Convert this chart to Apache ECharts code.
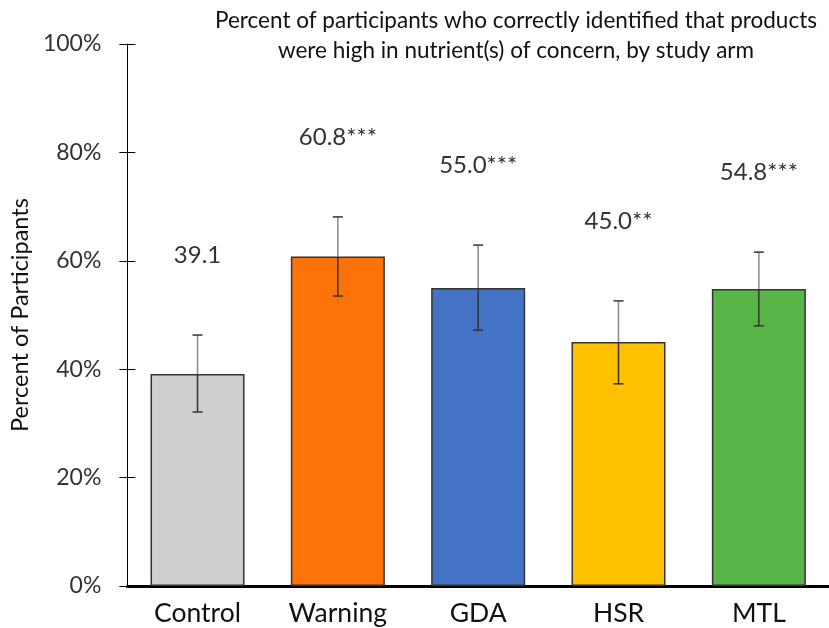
<!DOCTYPE html>
<html>
<head>
<meta charset="utf-8">
<script src="https://cdn.jsdelivr.net/npm/echarts@6/dist/echarts.min.js"></script>
<style>
html,body{margin:0;padding:0;background:#fff;}
#chart{width:829px;height:628px;}
</style>
</head>
<body>
<div id="chart"></div>
<script>
var categories = ['Control', 'Warning', 'GDA', 'HSR', 'MTL'];
var values = [39.1, 60.8, 55.0, 45.0, 54.8];
var errLow = [32.1, 53.5, 47.2, 37.3, 48.0];
var errHigh = [46.3, 68.1, 62.9, 52.6, 61.6];
var valueLabels = ['39.1', '60.8***', '55.0***', '45.0**', '54.8***'];
var barColors = ['#d0cece', '#fb7309', '#4472c4', '#ffc000', '#56b546'];
var yTicks = [0, 20, 40, 60, 80, 100];

var FONT = 'Lato';
var chart = echarts.init(document.getElementById('chart'));

var errData = categories.map(function (c, i) { return [i, errLow[i], errHigh[i], values[i]]; });

var option = {
  backgroundColor: '#fff',
  animation: false,
  title: {
    text: 'Percent of participants who correctly identified that products\nwere high in nutrient(s) of concern, by study arm',
    left: 511, top: 1, textAlign: 'center',
    textStyle: { fontFamily: FONT, fontSize: 22.5, fontWeight: 'normal', color: '#111', lineHeight: 30 }
  },
  grid: { left: 125, right: -3, top: 44, bottom: 42, containLabel: false },
  xAxis: {
    type: 'category', data: categories,
    axisLine: { lineStyle: { color: '#000', width: 3 } },
    axisTick: { show: false },
    axisLabel: { fontFamily: FONT, fontSize: 26.5, color: '#111', margin: 14 }
  },
  yAxis: [{
    type: 'value', min: 0, max: 100, interval: 20,
    name: 'Percent of Participants', nameLocation: 'middle', nameGap: 94,
    nameTextStyle: { fontFamily: FONT, fontSize: 23.5, color: '#111' },
    axisLine: { show: true, lineStyle: { color: '#000', width: 1 } },
    axisTick: { show: true, length: 8, lineStyle: { color: '#000' } },
    axisLabel: { fontFamily: FONT, fontSize: 23, color: '#333', margin: 26, formatter: function (v) { return yTicks.indexOf(v) >= 0 ? v + '%' : ''; } },
    splitLine: { show: false }
  }, {
    type: 'value', min: 0, max: 100, interval: 20, position: 'left', offset: 0,
    axisLine: { show: false },
    axisTick: { show: true, inside: true, length: 8, lineStyle: { color: '#000' } },
    axisLabel: { show: false },
    splitLine: { show: false }
  }],
  series: [{
    type: 'bar',
    barWidth: '67%',
    data: values.map(function (v, i) {
      return { value: v, itemStyle: { color: barColors[i], borderColor: '#333', borderWidth: 1.5 } };
    }),
    z: 2
  }, {
    type: 'custom',
    data: errData,
    z: 5,
    renderItem: function (params, api) {
      var x = api.coord([api.value(0), 0])[0];
      var yl = api.coord([api.value(0), api.value(1)])[1];
      var yh = api.coord([api.value(0), api.value(2)])[1];
      var yv = api.coord([api.value(0), api.value(3)])[1];
      var cap = 5;
      var idx = params.dataIndex;
      return {
        type: 'group',
        children: [
          { type: 'line', shape: { x1: x, y1: yv, x2: x, y2: yh }, style: { stroke: '#8a8a8a', lineWidth: 1.5 } },
          { type: 'line', shape: { x1: x, y1: yl, x2: x, y2: yv }, style: { stroke: '#333', lineWidth: 1.5 } },
          { type: 'line', shape: { x1: x - cap, y1: yh, x2: x + cap, y2: yh }, style: { stroke: '#333', lineWidth: 1.5 } },
          { type: 'line', shape: { x1: x - cap, y1: yl, x2: x + cap, y2: yl }, style: { stroke: '#333', lineWidth: 1.5 } },
          { type: 'text', x: x, y: yh - 80, style: { text: valueLabels[idx], fontFamily: FONT, fontSize: 24, fill: '#333', align: 'center', verticalAlign: 'middle' } }
        ]
      };
    }
  }]
};
chart.setOption(option);
</script>
</body>
</html>
